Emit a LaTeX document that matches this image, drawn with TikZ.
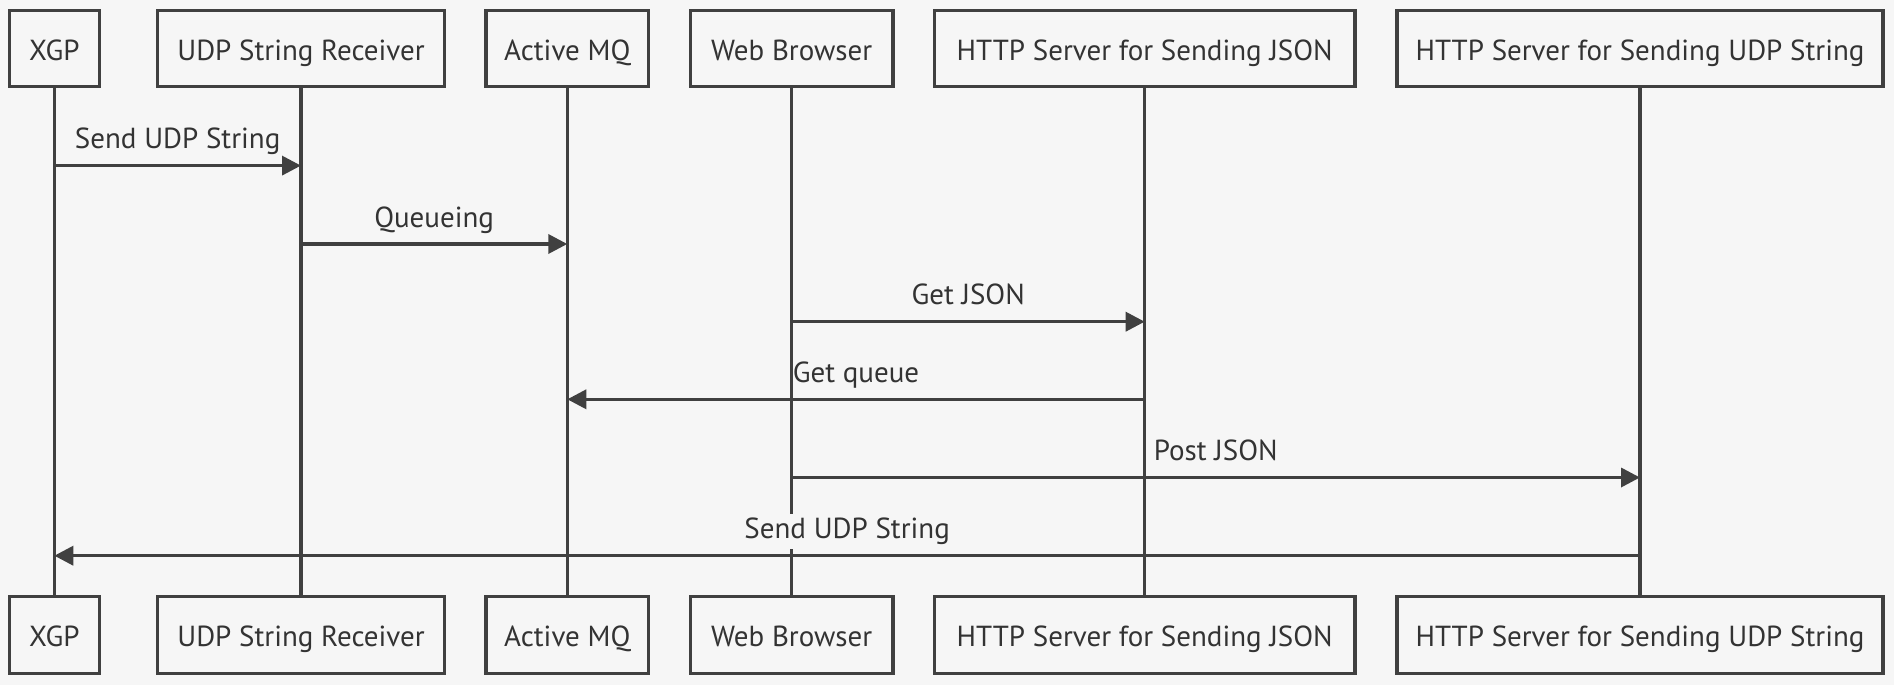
\documentclass[tikz,border=0pt]{standalone}
\usepackage{fontspec}
\setmainfont{PT Sans}
\usetikzlibrary{arrows.meta,calc}
\definecolor{bgc}{HTML}{F6F6F6}
\definecolor{linec}{HTML}{404040}
\definecolor{textc}{HTML}{333333}
\tikzset{
  actor/.style={draw=linec, line width=3.3pt, fill=bgc, text=textc, inner sep=0pt,
    text height=29pt, text depth=6pt,
    minimum height=76pt, font=\fontsize{29}{35}\selectfont},
  lifeline/.style={draw=linec, line width=3.3pt},
  msg/.style={draw=linec, line width=3.5pt, -{Triangle[length=19pt,width=19pt]}},
  msglabel/.style={fill=bgc, text=textc, inner xsep=0pt, inner ysep=4pt, anchor=base,
    font=\fontsize{29}{35}\selectfont}
}
\begin{document}
\begin{tikzpicture}[x=1pt,y=-1pt]
\useasboundingbox (0,0) rectangle (1894,685);
\fill[bgc] (0,0) rectangle (1894,685);
% top actors
\node[actor, minimum width=89.7pt]  (xgpT) at (54.3,48.6)  {XGP};
\node[actor, minimum width=287.4pt] (udpT) at (301,48.6)   {UDP String Receiver};
\node[actor, minimum width=162.6pt] (amqT) at (567.3,48.6) {Active MQ};
\node[actor, minimum width=202.7pt] (wbT)  at (791.6,48.6) {Web Browser};
\node[actor, minimum width=420.7pt] (hjT)  at (1144.7,48.6) {HTTP Server for Sending JSON};
\node[actor, minimum width=486.2pt] (huT)  at (1640,48.6)  {HTTP Server for Sending UDP String};
% bottom actors
\node[actor, minimum width=89.7pt, minimum height=77pt]  (xgpB) at (54.3,634.7)  {XGP};
\node[actor, minimum width=287.4pt, minimum height=77pt] (udpB) at (301,634.7)   {UDP String Receiver};
\node[actor, minimum width=162.6pt, minimum height=77pt] (amqB) at (567.3,634.7) {Active MQ};
\node[actor, minimum width=202.7pt, minimum height=77pt] (wbB)  at (791.6,634.7) {Web Browser};
\node[actor, minimum width=420.7pt, minimum height=77pt] (hjB)  at (1144.7,634.7) {HTTP Server for Sending JSON};
\node[actor, minimum width=486.2pt, minimum height=77pt] (huB)  at (1640,634.7)  {HTTP Server for Sending UDP String};
% lifelines
\draw[lifeline] (xgpT.south) -- (xgpB.north);
\draw[lifeline] (udpT.south) -- (udpB.north);
\draw[lifeline] (amqT.south) -- (amqB.north);
\draw[lifeline] (wbT.south) -- (wbB.north);
\draw[lifeline] (hjT.south) -- (hjB.north);
\draw[lifeline] (huT.south) -- (huB.north);
% message end points
\coordinate (m1a) at (xgpT.south |- 0,165.6);
\coordinate (m1b) at (udpT.south |- 0,165.6);
\coordinate (m2a) at (udpT.south |- 0,244);
\coordinate (m2b) at (amqT.south |- 0,244);
\coordinate (m3a) at (wbT.south |- 0,321.7);
\coordinate (m3b) at (hjT.south |- 0,321.7);
\coordinate (m4a) at (hjT.south |- 0,399.3);
\coordinate (m4b) at (amqT.south |- 0,399.3);
\coordinate (m5a) at (wbT.south |- 0,477.5);
\coordinate (m5b) at (huT.south |- 0,477.5);
\coordinate (m6a) at (huT.south |- 0,555.7);
\coordinate (m6b) at (xgpT.south |- 0,555.7);
% labels
\node[msglabel] (l1) at ($(m1a)!0.5!(m1b)+(0,-17)$) {Send UDP String};
\node[msglabel] (l2) at ($(m2a)!0.5!(m2b)+(0,-17)$) {Queueing};
\node[msglabel] (l3) at ($(m3a)!0.5!(m3b)+(0,-17)$) {Get JSON};
\node[msglabel] (l4) at ($(m4a)!0.5!(m4b)+(0,-17)$) {Get queue};
\node[msglabel] (l5) at ($(m5a)!0.5!(m5b)+(0,-17)$) {Post JSON};
\node[msglabel] (l6) at ($(m6a)!0.5!(m6b)+(0,-17)$) {Send UDP String};
% messages
\draw[msg] (m1a) -- (m1b);
\draw[msg] (m2a) -- (m2b);
\draw[msg] (m3a) -- (m3b);
\draw[msg] (m4a) -- (m4b);
\draw[msg] (m5a) -- (m5b);
\draw[msg] (m6a) -- (m6b);
\end{tikzpicture}
\end{document}
